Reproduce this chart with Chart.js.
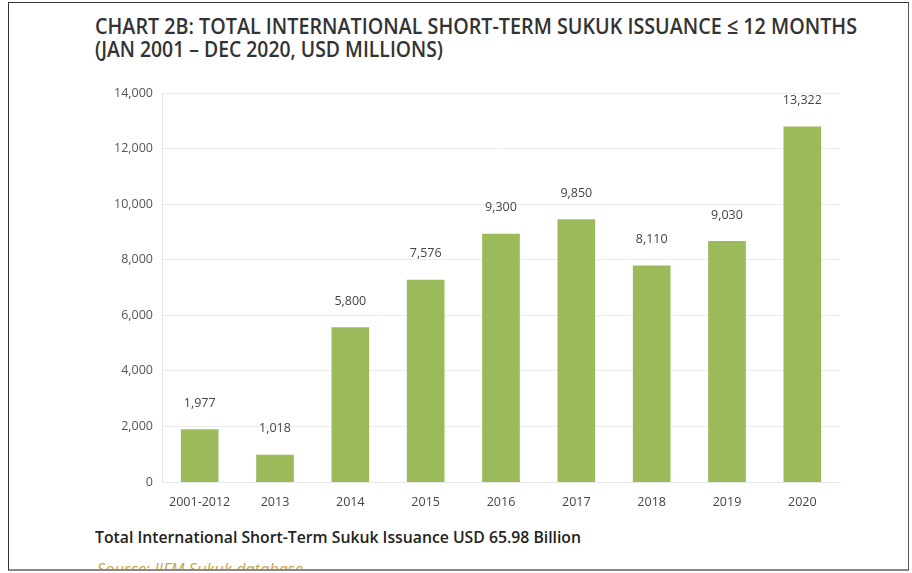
<!DOCTYPE html>
<html>
<head>
<meta charset="utf-8">
<script src="https://cdn.jsdelivr.net/npm/chart.js@4"></script>
<style>
  html, body { margin: 0; padding: 0; background: #fff; }
  body { width: 912px; height: 573px; position: relative; overflow: hidden; }
  #frame { position: absolute; left: 8px; top: 2px; width: 901px; height: 569px;
           border-left: 1px solid #333; border-top: 1px solid #333; border-right: 1px solid #555;
           border-bottom: 2px solid #888; overflow: hidden; box-sizing: border-box; }
  .fit { position: absolute; white-space: nowrap; transform-origin: 0 0;
         font-family: "Open Sans", sans-serif; line-height: 1; }
  .title { left: 95px; font-size: 22px; font-weight: 600; color: #333; }
  #t1 { top: 14px; }
  #t2 { top: 37px; }
  #foot { left: 95px; top: 529px; font-size: 16px; font-weight: 600; color: #222; }
  #src { left: 97px; top: 561px; font-size: 16px; font-style: italic; color: #c9a54a; }
  #clip { position: absolute; left: 0; top: 0; width: 912px; height: 571px; overflow: hidden; }
  canvas { position: absolute; left: 0; top: 0; }
</style>
</head>
<body>
<div id="clip">
  <div class="fit title" id="t1" data-w="762">CHART 2B: TOTAL INTERNATIONAL SHORT-TERM SUKUK ISSUANCE ≤ 12 MONTHS</div>
  <div class="fit title" id="t2" data-w="348">(JAN 2001 – DEC 2020, USD MILLIONS)</div>
  <div class="fit" id="foot" data-w="486">Total International Short-Term Sukuk Issuance USD 65.98 Billion</div>
  <div class="fit" id="src" data-w="206">Source: IIFM Sukuk database</div>
  <div style="position:absolute;left:0;top:0;width:912px;height:573px;">
    <canvas id="c" width="912" height="573"></canvas>
  </div>
</div>
<div id="frame"></div>
<script>
const categories = ["2001-2012", "2013", "2014", "2015", "2016", "2017", "2018", "2019", "2020"];
const issuance = [1977, 1018, 5800, 7576, 9300, 9850, 8110, 9030, 13322];
const yTicks = [0, 2000, 4000, 6000, 8000, 10000, 12000, 14000];

document.querySelectorAll(".fit").forEach(el => {
  const target = parseFloat(el.dataset.w);
  const w = el.getBoundingClientRect().width;
  if (w > 0) el.style.transform = "scaleX(" + (target / w) + ")";
});

const fmt = v => v.toLocaleString("en-US");

const valueLabels = {
  id: "valueLabels",
  afterDatasetsDraw(chart) {
    const ctx = chart.ctx;
    const meta = chart.getDatasetMeta(0);
    ctx.save();
    ctx.font = "12.5px 'Open Sans', sans-serif";
    ctx.fillStyle = "#444";
    ctx.textAlign = "center";
    ctx.textBaseline = "middle";
    meta.data.forEach((bar, i) => {
      ctx.fillText(fmt(issuance[i]), bar.x, bar.y - 26);
    });
    ctx.restore();
  }
};

new Chart(document.getElementById("c"), {
  type: "bar",
  data: {
    labels: categories,
    datasets: [{
      data: issuance,
      backgroundColor: "#9bba5a",
      yAxisID: "yBars",
      barPercentage: 0.5,
      categoryPercentage: 1.0
    }]
  },
  options: {
    responsive: false,
    animation: false,
    devicePixelRatio: 1,
    layout: { padding: { left: 90, right: 72, top: 93, bottom: 61 } },
    plugins: { legend: { display: false }, tooltip: { enabled: false }, title: { display: false } },
    scales: {
      x: {
        grid: { display: false, drawTicks: false },
        border: { color: "#e6e6e6" },
        ticks: { color: "#444", font: { family: "'Open Sans', sans-serif", size: 12.5 }, padding: 13 },
        afterFit(s) { s.height = 30; }
      },
      y: {
        position: "left",
        min: 0, max: 14000,
        afterBuildTicks(s) { s.ticks = yTicks.map(v => ({ value: v })); },
        grid: { color: "#ececec", drawTicks: false },
        border: { color: "#e6e6e6" },
        ticks: { color: "#555", font: { family: "'Open Sans', sans-serif", size: 12.5 }, padding: 9,
                 callback: v => fmt(v) },
        afterFit(s) { s.width = 72; }
      },
      yBars: {
        display: false,
        min: 0, max: 14580
      }
    }
  },
  plugins: [valueLabels]
});
</script>
</body>
</html>
